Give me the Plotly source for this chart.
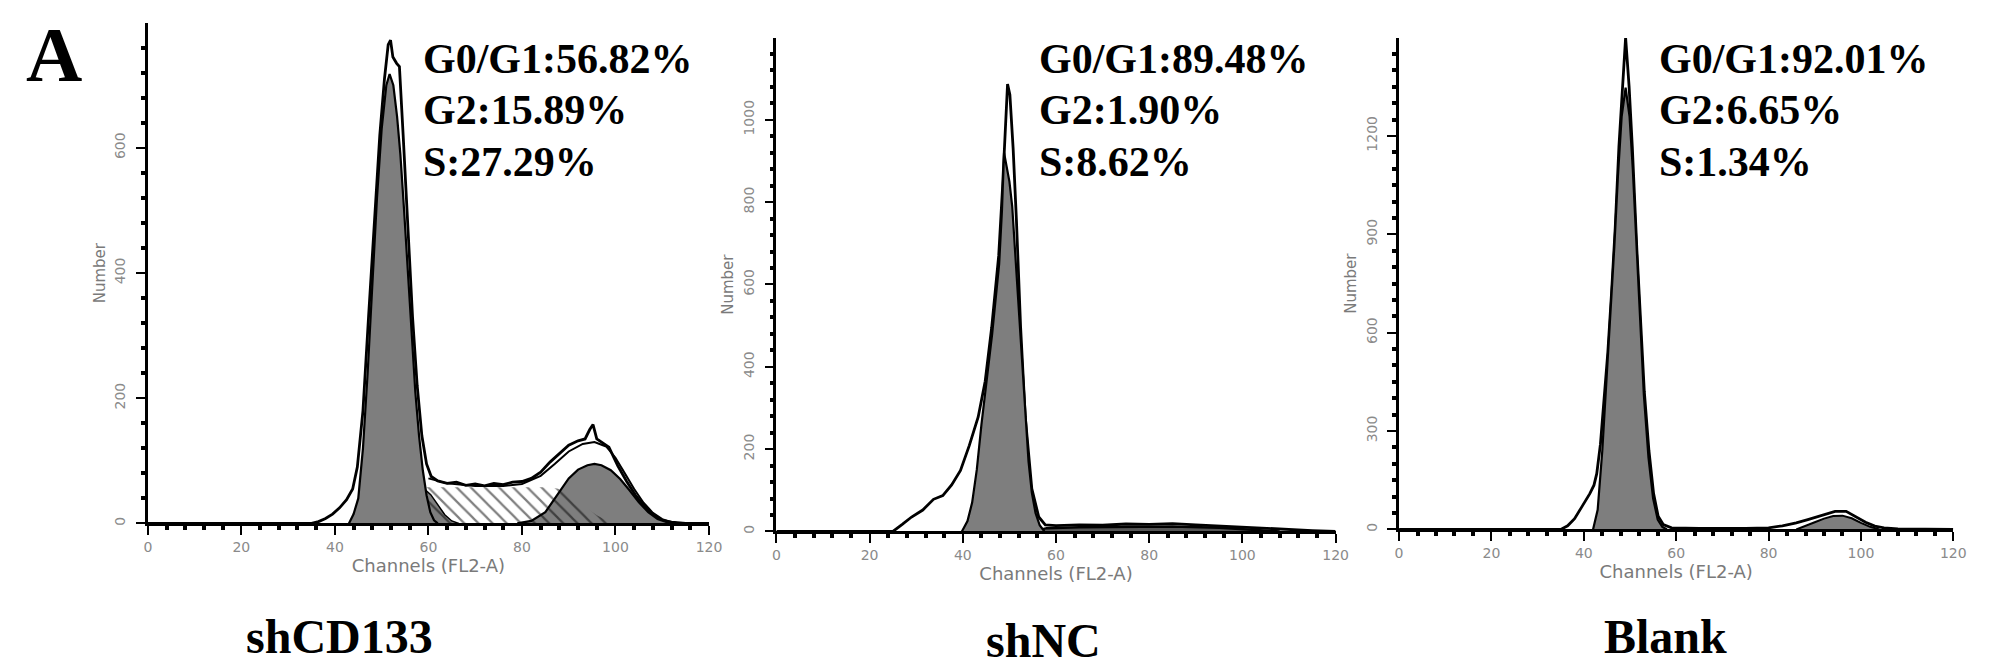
import plotly.graph_objects as go

W, H = 1993, 669

# shCD133 panel
cd133_x = [0, 35, 36.5, 38, 39.5, 41, 42.5, 43.8, 44.8, 46, 47.2, 48.4, 49.6, 50.6, 51.4, 51.9,
           52.4, 53.2, 53.8, 54.6, 55.6, 56.6, 57.6, 58.6, 59.6, 60.6, 62, 64, 66, 68, 70, 72, 74,
           76, 78, 80, 82, 84, 86, 88, 90, 92, 93.5, 94.5, 95.2, 96, 97, 98.6, 100.5, 102.4, 104.3,
           106.2, 108.1, 110, 112, 115, 120]
cd133_y = [0, 0, 3, 8, 15, 25, 38, 55, 90, 180, 330, 480, 620, 710, 765, 772,
           745, 735, 730, 620, 470, 330, 220, 140, 95, 75, 68, 64, 66, 61, 63, 60, 64,
           62, 66, 67, 72, 82, 98, 112, 125, 132, 135, 150, 158, 135, 130, 122, 92, 67, 45,
           27, 13, 5, 2, 0, 0]
cd133_fit_x = [60, 64, 70, 76, 80, 84, 87, 90, 93, 95.5, 98, 100, 102, 104, 106, 108, 110, 112, 114]
cd133_fit_y = [72, 64, 60, 60, 63, 76, 95, 115, 127, 130, 123, 105, 80, 55, 33, 17, 7, 2, 0]
cd133_g1_x = [43, 44, 45, 46, 47, 48, 49, 50, 51, 51.7, 52.5, 53.3, 54, 54.8, 55.6, 56.4, 57.2,
              58, 58.8, 59.6, 60.4, 61.2, 62]
cd133_g1_y = [0, 15, 40, 120, 240, 380, 520, 630, 700, 718, 700, 650, 590, 500, 400, 300, 210,
              140, 85, 45, 18, 5, 0]
cd133_sg1_x = [46, 48, 50, 52, 54, 56, 57.5, 59, 60.5, 62, 63.5, 65, 66.5]
cd133_sg1_y = [0, 6, 14, 26, 40, 52, 58, 56, 46, 30, 14, 4, 0]
cd133_g2_x = [79, 82, 85, 88, 90, 92, 94, 95.5, 97, 99, 101, 103, 105, 107, 109, 111, 113]
cd133_g2_y = [0, 4, 18, 50, 72, 86, 93, 95, 93, 85, 71, 53, 34, 18, 7, 2, 0]
cd133_s_x = [46, 48, 50, 52, 54, 56, 70, 86, 88, 90, 92, 94, 96, 98, 100]
cd133_s_y = [0, 20, 38, 50, 56, 58, 58, 58, 55, 46, 35, 24, 13, 5, 0]

# shNC panel
nc_x = [0, 25, 27, 29, 31.4, 33.7, 35.7, 37.6, 39.5, 41.4, 43.3, 44.8, 46.2, 47.7, 48.5, 49.0,
        49.3, 49.6, 50.1, 50.8, 51.5, 52.4, 53.4, 54.8, 56.3, 57.7, 60, 65, 70, 75, 80, 85, 90,
        95, 100, 105, 110, 115, 120]
nc_y = [0, 0, 17, 35, 52, 78, 87, 113, 148, 209, 278, 365, 496, 670, 830, 960,
        1030, 1087, 1061, 930, 757, 496, 278, 104, 35, 16, 14, 16, 15, 18, 17, 19, 16,
        13, 11, 7, 4, 2, 0]
nc_g1_x = [39.8, 41, 42, 43, 44, 44.9, 46.3, 47.8, 48.4, 48.85, 49.4, 50, 50.6, 51.2, 52, 52.7,
           53.4, 54.1, 54.8, 55.6, 56.5, 57.5]
nc_g1_y = [0, 25, 70, 150, 260, 350, 480, 650, 780, 920, 890, 850, 790, 680, 550, 420,
           270, 170, 95, 45, 15, 0]
nc_s_x = [55, 58, 65, 75, 85, 95, 102, 108]
nc_s_y = [0, 8, 10, 11, 12, 9, 5, 0]

# Blank panel
blank_x = [0, 35, 36.5, 38, 39.4, 40.5, 41.3, 42.2, 42.8, 43.6, 44.4, 45.2, 46.0, 46.8, 47.6,
           48.4, 49.05, 49.8, 50.5, 51.5, 52.3, 53.1, 54.1, 55.1, 56.1, 57.2, 59, 65, 75, 80,
           83, 86, 88.5, 91.6, 94.4, 96.8, 99.1, 101, 103, 105, 108, 115, 120]
blank_y = [0, 0, 11, 33, 65, 90, 109, 135, 170, 260, 400, 540, 720, 920, 1167,
           1352, 1500, 1352, 1167, 850, 620, 420, 240, 110, 40, 15, 5, 3, 3, 5,
           11, 20, 30, 44, 55, 55, 38, 22, 10, 5, 2, 0, 0]
blank_g1_x = [42, 43, 44, 45, 45.8, 46.6, 47.4, 48.2, 49.05, 49.9, 50.6, 51.4, 52.2, 53, 54, 55,
              56, 57, 58]
blank_g1_y = [0, 60, 240, 470, 660, 860, 1080, 1260, 1347, 1260, 1100, 860, 620, 410, 220, 95,
              30, 8, 0]
blank_g2_x = [86, 88, 90, 92, 94, 96, 98, 100, 102, 104]
blank_g2_y = [0, 10, 22, 33, 41, 42, 34, 20, 8, 0]

titles = ["shCD133", "shNC", "Blank"]
stats = [["G0/G1:56.82%", "G2:15.89%", "S:27.29%"],
         ["G0/G1:89.48%", "G2:1.90%", "S:8.62%"],
         ["G0/G1:92.01%", "G2:6.65%", "S:1.34%"]]
y_max = [799.5, 1199, 1499]
y_dtick = [200, 200, 300]
y_minor = [40, 40, 50]

GRAY = "#7e7e7e"


def px(x):
    return x / W


def py(y):
    return 1 - y / H


def area(fig, x, y, n, fill, width=2.2, pattern=None):
    ref = "" if n == 1 else str(n)
    kw = dict(x=x, y=y, mode="lines", fill="tozeroy", fillcolor=fill,
              line=dict(color="black", width=width), xaxis="x" + ref, yaxis="y" + ref,
              hoverinfo="skip", showlegend=False)
    if pattern:
        kw["fillpattern"] = pattern
        kw["line"] = dict(width=0, color="rgba(0,0,0,0)")
    fig.add_trace(go.Scatter(**kw))


fig = go.Figure()

hatch = dict(shape="\\", fgcolor="black", bgcolor="rgba(0,0,0,0)", size=10, solidity=0.22)

area(fig, cd133_x, cd133_y, 1, "white", 2.8)
fig.add_trace(go.Scatter(x=cd133_fit_x, y=cd133_fit_y, mode="lines", line=dict(color="black", width=2),
                         xaxis="x", yaxis="y", hoverinfo="skip", showlegend=False))
area(fig, cd133_sg1_x, cd133_sg1_y, 1, GRAY, 1.5)
area(fig, cd133_g2_x, cd133_g2_y, 1, GRAY, 2.2)
area(fig, cd133_s_x, cd133_s_y, 1, "rgba(0,0,0,0)", pattern=hatch)
area(fig, cd133_g1_x, cd133_g1_y, 1, GRAY, 2.2)

area(fig, nc_x, nc_y, 2, "white", 2.8)
area(fig, nc_s_x, nc_s_y, 2, "#555555", 2.5)
area(fig, nc_g1_x, nc_g1_y, 2, GRAY, 2.2)

area(fig, blank_x, blank_y, 3, "white", 2.8)
area(fig, blank_g1_x, blank_g1_y, 3, GRAY, 2.2)
area(fig, blank_g2_x, blank_g2_y, 3, GRAY, 2)

# panel frames in pixels: left, right, bottom, top
frames = [(137, 703, 517, 15), (771, 1335, 525, 30), (1399, 1958, 523, 30)]
tick_font = dict(family="DejaVu Sans", size=14, color="#8a8a8a")
label_font = dict(family="DejaVu Sans", size=18, color="#7a7a7a")

layout = dict(width=W, height=H, margin=dict(l=0, r=0, t=0, b=0),
              paper_bgcolor="white", plot_bgcolor="rgba(0,0,0,0)", annotations=[])
for i, (l, r, b, t) in enumerate(frames):
    ref = "" if i == 0 else str(i + 1)
    layout["xaxis" + ref] = dict(
        domain=[px(l), px(r)], range=[0, 120], anchor="y" + ref, dtick=20,
        showline=True, linecolor="black", linewidth=2.5, showgrid=False, zeroline=False,
        ticks="outside", ticklen=9, tickwidth=2, tickcolor="black", tickfont=tick_font,
        minor=dict(ticks="outside", dtick=4, ticklen=4, tickwidth=3.5, tickcolor="black"),
        title=dict(text="Channels (FL2-A)", font=label_font, standoff=2))
    layout["yaxis" + ref] = dict(
        domain=[py(b), py(t)], range=[0, y_max[i]], anchor="x" + ref, dtick=y_dtick[i],
        showline=True, linecolor="black", linewidth=2.5, showgrid=False, zeroline=False,
        ticks="outside", ticklen=9, tickwidth=2, tickcolor="black", tickfont=tick_font,
        tickangle=-90, ticklabelstandoff=5,
        minor=dict(ticks="outside", dtick=y_minor[i], ticklen=4, tickwidth=3.5, tickcolor="black"),
        title=dict(text="Number", font=dict(family="DejaVu Sans", size=15, color="#7a7a7a"),
                   standoff=4))

stat_left = [413, 1034, 1659]
stat_rows = [51, 102, 154]
title_pos = [(330, 630), (1040, 634), (1668, 630)]
for i in range(3):
    for j, line in enumerate(stats[i]):
        layout["annotations"].append(dict(
            x=px(stat_left[i]), y=py(stat_rows[j]), xref="paper", yref="paper", text=line,
            showarrow=False, xanchor="left", yanchor="middle",
            font=dict(family="Liberation Serif", size=42, color="black", weight="bold")))
    layout["annotations"].append(dict(
        x=px(title_pos[i][0]), y=py(title_pos[i][1]), xref="paper", yref="paper", text=titles[i],
        showarrow=False, xanchor="center", yanchor="middle",
        font=dict(family="Liberation Serif", size=48, color="black", weight="bold")))

layout["annotations"].append(dict(
    x=px(42), y=py(1), xref="paper", yref="paper", text="A", showarrow=False,
    xanchor="center", yanchor="top",
    font=dict(family="Liberation Serif", size=78, color="black", weight="bold")))

fig.update_layout(**layout)
fig.write_html("out.html")
